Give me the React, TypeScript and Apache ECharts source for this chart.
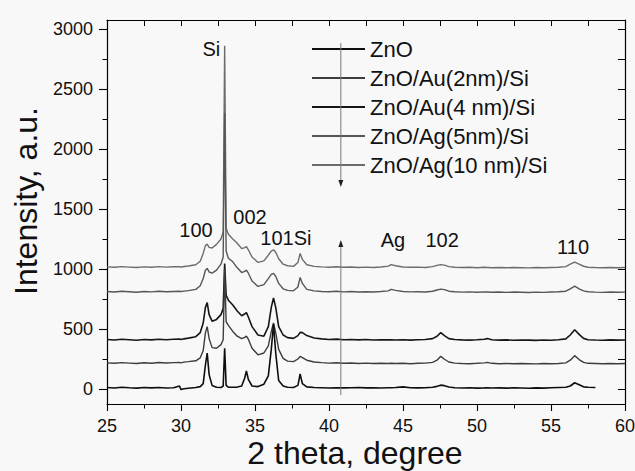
import React, { useEffect, useRef } from "react";
import * as echarts from "echarts";

const twoTheta = [
  25, 25.5, 26, 26.5, 27, 27.5, 28, 28.5, 29, 29.5,
  29.9, 30, 30.2, 30.5, 31, 31.3, 31.5, 31.65, 31.77, 31.9,
  32.1, 32.4, 32.7, 32.85, 32.95, 33.05, 33.2, 33.5, 33.8, 34.1,
  34.3, 34.42, 34.55, 34.8, 35.2, 35.6, 35.9, 36.1, 36.25, 36.4,
  36.6, 36.9, 37.2, 37.6, 37.9, 38.05, 38.2, 38.5, 39, 39.5,
  40, 40.5, 41, 41.5, 42, 42.5, 43, 43.5, 44, 44.2,
  44.5, 45, 45.5, 46, 46.5, 47, 47.3, 47.55, 47.8, 48.1,
  48.5, 49, 49.5, 50, 50.5, 50.7, 51, 51.5, 52, 52.5,
  53, 53.5, 54, 54.5, 55, 55.5, 56, 56.3, 56.6, 56.9,
  57.2, 57.5, 58, 58.5, 59, 59.5, 60,
];

const znO = [
  12, 8, 14, 10, 7, 12, 9, 13, 8, 11,
  25, -5, 2, 6, 12, 20, 45, 200, 300, 120,
  30, 15, 12, 25, 340, 30, 15, 14, 16, 25,
  90, 150, 80, 25, 20, 40, 110, 330, 540, 300,
  70, 25, 15, 12, 30, 125, 45, 18, 12, 10,
  8, 11, 9, 10, 12, 9, 10, 8, 11, 10,
  12, 18, 10, 9, 11, 14, 22, 32, 28, 16,
  10, 8, 10, 7, 9, 10, 8, 9, 7, 10,
  8, 6, 9, 7, 10, 12, 14, 25, 52, 35,
  18, 14, 12,
];

const au2 = [
  218, 214, 220, 216, 212, 219, 215, 221, 217, 220,
  222, 218, 224, 228, 235, 260, 320, 470, 520, 420,
  345, 340, 370, 410, 1000, 560, 530, 480, 440, 420,
  430, 440, 415, 340, 285, 300, 360, 480, 550, 470,
  330, 255, 232, 228, 250, 272, 262, 240, 225, 220,
  216, 219, 214, 217, 213, 216, 212, 215, 213, 214,
  212, 215, 211, 214, 216, 222, 240, 272, 248, 225,
  216, 213, 211, 214, 218, 222, 214, 211, 213, 210,
  212, 211, 209, 212, 210, 213, 218, 240, 278, 245,
  222, 214, 212, 210, 213, 211, 212,
];

const au4 = [
  412, 408, 414, 410, 406, 413, 409, 415, 411, 414,
  416, 412, 418, 424, 436, 470, 550, 680, 720, 620,
  565, 580, 620, 670, 1045, 780, 740, 700, 650, 610,
  625, 636, 600, 520, 450, 440, 520, 680, 758, 680,
  520, 450, 428, 422, 445, 472, 470, 445, 425, 418,
  413, 416, 410, 413, 409, 412, 408, 411, 409, 410,
  408, 411, 407, 410, 412, 420, 440, 470, 445, 420,
  412, 409, 407, 410, 414, 420, 410, 407, 409, 406,
  408, 407, 405, 408, 406, 410, 418, 450, 494, 455,
  422, 411, 408, 406, 409, 407, 408,
];

const ag5 = [
  812, 808, 814, 810, 806, 812, 809, 814, 810, 813,
  815, 812, 816, 820, 830, 860, 920, 990, 1005, 975,
  965, 990, 1040, 1100, 2300, 1150, 1090, 1060, 1010, 970,
  980, 991, 965, 900, 855, 870, 920, 955, 964, 940,
  880, 835, 822, 818, 850, 930, 880, 830, 818, 813,
  810, 814, 809, 812, 808, 811, 808, 812, 818, 830,
  822, 812, 809, 811, 808, 815, 825, 832, 828, 815,
  810, 807, 809, 806, 809, 808, 806, 808, 805, 808,
  806, 804, 807, 805, 808, 810, 815, 835, 858, 835,
  818, 810, 807, 805, 808, 806, 807,
];

const ag10 = [
  1018, 1014, 1020, 1016, 1012, 1018, 1015, 1020, 1016, 1019,
  1020, 1017, 1021, 1025, 1035, 1065, 1130, 1195, 1208, 1180,
  1175, 1205, 1250, 1310, 2860, 1340, 1290, 1250, 1215, 1170,
  1178, 1186, 1160, 1100, 1055, 1068, 1115, 1150, 1160, 1140,
  1085, 1040, 1027, 1022, 1055, 1130, 1080, 1035, 1022, 1018,
  1015, 1019, 1014, 1017, 1013, 1016, 1013, 1017, 1024, 1036,
  1027, 1017, 1014, 1016, 1013, 1020, 1030, 1036, 1032, 1020,
  1015, 1012, 1014, 1011, 1014, 1013, 1011, 1013, 1010, 1013,
  1011, 1009, 1012, 1010, 1013, 1015, 1020, 1040, 1058, 1040,
  1023, 1015, 1012, 1010, 1013, 1011, 1012,
];

const seriesNames = [
  "ZnO",
  "ZnO/Au(2nm)/Si",
  "ZnO/Au(4 nm)/Si",
  "ZnO/Ag(5nm)/Si",
  "ZnO/Ag(10 nm)/Si",
];
const seriesColors = ["#0e0e0e", "#3d3d3d", "#161616", "#565656", "#6c6c6c"];
const seriesWidths = [1.6, 1.4, 1.6, 1.4, 1.4];

const yTickValues = [0, 500, 1000, 1500, 2000, 2500, 3000];
const yMinorValues = [250, 750, 1250, 1750, 2250, 2750];
const yRightTicks = [0, 250, 500, 750, 1000, 1250, 1500, 1750, 2000, 2250, 2500, 2750, 3000];

const peakLabels = [
  { text: "Si", x: 32.05, y: 2833 },
  { text: "002", x: 34.66, y: 1433 },
  { text: "100", x: 31.01, y: 1325 },
  { text: "101Si", x: 37.09, y: 1258 },
  { text: "Ag", x: 44.32, y: 1242 },
  { text: "102", x: 47.64, y: 1242 },
  { text: "110", x: 56.49, y: 1183 },
];

// arrows: start value -> tip value (data units)
const arrows = [
  { x: 40.8, from: 2883, to: 1683 },
  { x: 40.8, from: -50, to: 1242 },
];

const FONT = "'Liberation Sans', Arial, Helvetica, sans-serif";

export default function App() {
  const ref = useRef<HTMLDivElement>(null);

  useEffect(() => {
    if (!ref.current) return;
    const chart = echarts.init(ref.current, undefined, { renderer: "svg" });
    const allSeries = [znO, au2, au4, ag5, ag10];

    const lineSeries = allSeries.map((vals, i) => ({
      name: seriesNames[i],
      type: "line",
      data: vals.map((v, k) => [twoTheta[k], v]),
      showSymbol: false,
      symbol: "none",
      smooth: false,
      lineStyle: { color: seriesColors[i], width: seriesWidths[i] },
      itemStyle: { color: seriesColors[i] },
      emphasis: { disabled: true },
      silent: true,
      z: 3 + (4 - i),
    }));

    const axisLineStyle = { color: "#000", width: 1.2 };

    chart.setOption({
      animation: false,
      backgroundColor: "#f8f8f8",
      textStyle: { fontFamily: FONT },
      grid: {
        left: 107,
        right: 10,
        top: 20,
        bottom: 67,
        containLabel: false,
        outerBoundsMode: "none",
      },
      legend: {
        data: seriesNames.map((n) => ({ name: n, icon: "rect" })),
        orient: "vertical",
        left: 307,
        top: 33,
        itemWidth: 53,
        itemHeight: 1.8,
        itemGap: 7,
        selectedMode: false,
        textStyle: { fontSize: 22, color: "#111", fontFamily: FONT, lineHeight: 22 },
      },
      xAxis: [
        {
          type: "value",
          min: 25,
          max: 60,
          interval: 5,
          position: "bottom",
          axisLine: { show: true, onZero: false, lineStyle: axisLineStyle },
          axisTick: { show: true, inside: false, length: 7, lineStyle: { color: "#000", width: 1.1 } },
          minorTick: { show: true, splitNumber: 2, length: 4.5, lineStyle: { color: "#000", width: 1 } },
          axisLabel: { fontSize: 18, color: "#111", margin: 13, fontFamily: FONT },
          splitLine: { show: false },
          minorSplitLine: { show: false },
        },
        {
          type: "value",
          min: 25,
          max: 60,
          interval: 2.5,
          position: "top",
          axisLine: { show: true, onZero: false, lineStyle: axisLineStyle },
          axisTick: { show: true, inside: true, length: 6, lineStyle: { color: "#000", width: 1 } },
          axisLabel: { show: false },
          splitLine: { show: false },
        },
      ],
      yAxis: [
        {
          type: "value",
          min: -125,
          max: 3075,
          position: "left",
          axisLine: { show: true, onZero: false, lineStyle: axisLineStyle },
          axisTick: {
            show: true,
            inside: false,
            length: 8,
            customValues: yTickValues,
            lineStyle: { color: "#000", width: 1.1 },
          },
          axisLabel: {
            show: true,
            customValues: yTickValues,
            formatter: (v: number) => String(v),
            fontSize: 18,
            color: "#111",
            margin: 14,
            fontFamily: FONT,
          },
          splitLine: { show: false },
        },
        {
          type: "value",
          min: -125,
          max: 3075,
          position: "left",
          axisLine: { show: false, onZero: false },
          axisTick: {
            show: true,
            inside: false,
            length: 4.5,
            customValues: yMinorValues,
            lineStyle: { color: "#000", width: 1 },
          },
          axisLabel: { show: false },
          splitLine: { show: false },
        },
        {
          type: "value",
          min: -125,
          max: 3075,
          position: "right",
          axisLine: { show: true, onZero: false, lineStyle: axisLineStyle },
          axisTick: {
            show: true,
            inside: true,
            length: 7,
            customValues: yRightTicks,
            lineStyle: { color: "#000", width: 1 },
          },
          axisLabel: { show: false },
          splitLine: { show: false },
        },
      ],
      series: lineSeries,
    });

    const toPx = (x: number, y: number) =>
      chart.convertToPixel({ seriesIndex: 0 }, [x, y]) as number[];

    const labelGraphics = peakLabels.map((p) => {
      const [px, py] = toPx(p.x, p.y);
      return {
        type: "text",
        x: px,
        y: py,
        silent: true,
        z: 100,
        style: {
          text: p.text,
          fontSize: 20,
          fontFamily: FONT,
          fill: "#111",
          textAlign: "center",
          textVerticalAlign: "middle",
        },
      };
    });

    const arrowGraphics: any[] = [];
    arrows.forEach((a) => {
      const [x0, y0] = toPx(a.x, a.from);
      const [, y1] = toPx(a.x, a.to);
      const dir = y1 > y0 ? 1 : -1;
      const head = 7;
      arrowGraphics.push({
        type: "line",
        silent: true,
        z: 90,
        shape: { x1: x0, y1: y0, x2: x0, y2: y1 - dir * head },
        style: { stroke: "#7a7a7a", lineWidth: 1 },
      });
      arrowGraphics.push({
        type: "polygon",
        silent: true,
        z: 90,
        shape: {
          points: [
            [x0, y1],
            [x0 - 2.5, y1 - dir * head],
            [x0 + 2.5, y1 - dir * head],
          ],
        },
        style: { fill: "#222" },
      });
    });

    chart.setOption({
      graphic: [
        {
          type: "text",
          x: 25.5,
          y: 201,
          rotation: Math.PI / 2,
          silent: true,
          style: {
            text: "Intensity, a.u.",
            fontSize: 32,
            fontFamily: FONT,
            fill: "#111",
            textAlign: "center",
            textVerticalAlign: "middle",
          },
        },
        {
          type: "text",
          x: 355,
          y: 453,
          silent: true,
          style: {
            text: "2 theta, degree",
            fontSize: 32,
            lineHeight: 26,
            fontFamily: FONT,
            fill: "#111",
            textAlign: "center",
            textVerticalAlign: "middle",
          },
        },
        ...labelGraphics,
        ...arrowGraphics,
      ],
    });

    return () => chart.dispose();
  }, []);

  return (
    <div
      ref={ref}
      style={{ position: "absolute", left: 0, top: 0, width: 635, height: 471 }}
    />
  );
}
